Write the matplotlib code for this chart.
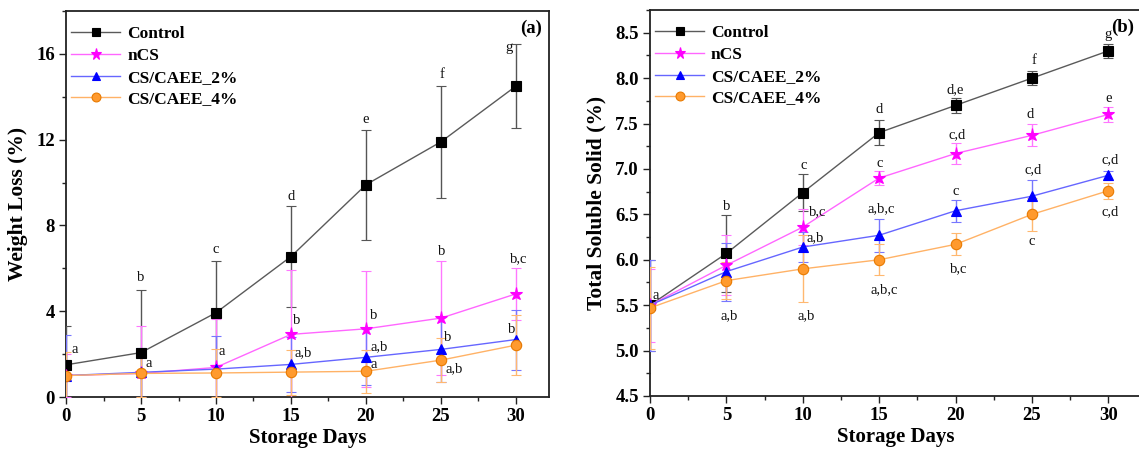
import matplotlib
matplotlib.use("Agg")
import matplotlib.pyplot as plt
from matplotlib.lines import Line2D
from matplotlib.ticker import MultipleLocator

# ---- data -------------------------------------------------------------
days = [0, 5, 10, 15, 20, 25, 30]
series_names = ["Control", "nCS", "CS/CAEE_2%", "CS/CAEE_4%"]

# Weight loss (%)
wl_control = [1.50, 2.07, 3.93, 6.55, 9.90, 11.90, 14.50]
wl_control_err = [1.80, 2.93, 2.42, 2.35, 2.56, 2.60, 1.94]
wl_ncs = [1.00, 1.10, 1.38, 2.92, 3.18, 3.68, 4.81]
wl_ncs_err = [1.00, 2.20, 2.25, 3.00, 2.70, 2.65, 1.20]
wl_cs2 = [1.00, 1.15, 1.30, 1.52, 1.85, 2.22, 2.68]
wl_cs2_err = [1.90, 1.15, 1.56, 1.30, 1.30, 1.50, 1.40]
wl_cs4 = [1.00, 1.10, 1.12, 1.16, 1.20, 1.72, 2.42]
wl_cs4_err = [1.10, 1.10, 1.10, 1.05, 1.00, 1.02, 1.40]

# Total soluble solid (%)
tss_control = [5.50, 6.07, 6.74, 7.40, 7.70, 8.00, 8.30]
tss_control_err = [0.50, 0.42, 0.20, 0.14, 0.08, 0.08, 0.08]
tss_ncs = [5.50, 5.94, 6.36, 6.90, 7.17, 7.37, 7.60]
tss_ncs_err = [0.40, 0.33, 0.20, 0.08, 0.12, 0.12, 0.08]
tss_cs2 = [5.50, 5.87, 6.14, 6.27, 6.54, 6.70, 6.93]
tss_cs2_err = [0.50, 0.32, 0.17, 0.18, 0.12, 0.18, 0.05]
tss_cs4 = [5.47, 5.77, 5.90, 6.00, 6.17, 6.50, 6.76]
tss_cs4_err = [0.45, 0.20, 0.37, 0.17, 0.12, 0.18, 0.09]

# Significance letters: (series, day index, letter)
wl_letters = [
    ("Control", 0, "a"), ("Control", 1, "b"), ("nCS", 1, "a"),
    ("Control", 2, "c"), ("nCS", 2, "a"),
    ("Control", 3, "d"), ("nCS", 3, "b"), ("CS/CAEE_2%", 3, "a,b"),
    ("Control", 4, "e"), ("nCS", 4, "b"), ("CS/CAEE_2%", 4, "a,b"), ("CS/CAEE_4%", 4, "a"),
    ("Control", 5, "f"), ("nCS", 5, "b"), ("CS/CAEE_2%", 5, "b"), ("CS/CAEE_4%", 5, "a,b"),
    ("Control", 6, "g"), ("nCS", 6, "b,c"), ("CS/CAEE_2%", 6, "b"),
]
tss_letters = [
    ("Control", 0, "a"),
    ("Control", 1, "b"), ("CS/CAEE_4%", 1, "a,b"),
    ("Control", 2, "c"), ("nCS", 2, "b,c"), ("CS/CAEE_2%", 2, "a,b"), ("CS/CAEE_4%", 2, "a,b"),
    ("Control", 3, "d"), ("nCS", 3, "c"), ("CS/CAEE_2%", 3, "a,b,c"), ("CS/CAEE_4%", 3, "a,b,c"),
    ("Control", 4, "d,e"), ("nCS", 4, "c,d"), ("CS/CAEE_2%", 4, "c"), ("CS/CAEE_4%", 4, "b,c"),
    ("Control", 5, "f"), ("nCS", 5, "d"), ("CS/CAEE_2%", 5, "c,d"), ("CS/CAEE_4%", 5, "c"),
    ("Control", 6, "g"), ("nCS", 6, "e"), ("CS/CAEE_2%", 6, "c,d"), ("CS/CAEE_4%", 6, "c,d"),
]

# ---- letter placement (offsets from the point, data units) ------------
wl_offsets = [
    (0.55, 0.70), (0.0, 3.48), (0.5, 0.48),
    (0.0, 2.95), (0.4, 0.75),
    (0.0, 2.81), (0.4, 0.65), (0.8, 0.53),
    (0.0, 3.03), (0.5, 0.62), (0.9, 0.51), (0.5, 0.30),
    (0.05, 3.13), (0.05, 3.12), (0.45, 0.54), (0.9, -0.40),
    (-0.45, 1.80), (0.2, 1.66), (-0.3, 0.47),
]
tss_offsets = [
    (0.36, 0.11),
    (0.03, 0.52), (0.15, -0.39),
    (0.06, 0.30), (1.0, 0.17), (0.8, 0.10), (0.2, -0.52),
    (0.0, 0.25), (0.0, 0.16), (0.1, 0.29), (0.3, -0.33),
    (-0.05, 0.175), (0.1, 0.21), (0.0, 0.21), (0.2, -0.27),
    (0.1, 0.19), (-0.1, 0.23), (0.1, 0.29), (0.0, -0.30),
    (0.0, 0.18), (0.0, 0.18), (0.1, 0.17), (0.1, -0.23),
]

# ---- styles -----------------------------------------------------------
styles = {
    "Control":    dict(marker="s", ms=7, mfc="black", mec="black",
                       line="#5a5a5a", err="#555555"),
    "nCS":        dict(marker="*", ms=9.5, mfc="#FF00FF", mec="#FF00FF",
                       line="#FF66FF", err="#FF77FF"),
    "CS/CAEE_2%": dict(marker="^", ms=7.5, mfc="#0000FF", mec="#0000FF",
                       line="#6666FF", err="#7777FF"),
    "CS/CAEE_4%": dict(marker="o", ms=7.5, mfc="#FF9A2E", mec="#E87A00",
                       line="#FFB266", err="#FFB870"),
}

plt.rcParams["font.family"] = ["Liberation Serif", "DejaVu Serif"]

fig = plt.figure(figsize=(11.39, 4.54), dpi=100)
ax_a = fig.add_axes([66 / 1139, 1 - 397 / 454, 483 / 1139, 386 / 454])
ax_b = fig.add_axes([650 / 1139, 1 - 396 / 454, 492 / 1139, 386 / 454])


def draw_panel(ax, values, errors, letters, offsets, ylabel, tag, ylim,
               major, minor, fmt):
    handles = []
    for name in series_names:
        st = styles[name]
        ax.errorbar(days, values[name], yerr=errors[name], color=st["line"],
                    lw=1.0, marker=st["marker"], ms=st["ms"],
                    mfc=st["mfc"], mec=st["mec"], mew=0.8,
                    ecolor=st["err"], elinewidth=1.0, capsize=3.5,
                    capthick=1.0, zorder=3)
        handles.append(Line2D([], [], color=st["line"], lw=1.0,
                              marker=st["marker"], ms=st["ms"] * 0.85,
                              mfc=st["mfc"], mec=st["mec"], mew=0.8,
                              label=name))
    for (name, i, txt), (dx, dy) in zip(letters, offsets):
        ax.text(days[i] + dx, values[name][i] + dy, txt, ha="center",
                va="center", fontsize=10.5, color="#111111", zorder=5)

    ax.set_xlim(0, 32.2)
    ax.set_ylim(*ylim)
    ax.xaxis.set_major_locator(MultipleLocator(5))
    ax.xaxis.set_minor_locator(MultipleLocator(2.5))
    ax.yaxis.set_major_locator(MultipleLocator(major))
    ax.yaxis.set_minor_locator(MultipleLocator(minor))
    ax.yaxis.set_major_formatter(fmt)
    ax.tick_params(which="both", direction="out", top=False, right=False,
                   width=1.0, color="#222222")
    ax.tick_params(which="major", length=5, labelsize=13.5, pad=3)
    ax.tick_params(which="minor", length=3)
    for lab in ax.get_xticklabels() + ax.get_yticklabels():
        lab.set_fontweight("bold")
    for sp in ax.spines.values():
        sp.set_linewidth(1.3)
        sp.set_color("#222222")

    ax.set_xlabel("Storage Days", fontsize=15, fontweight="bold", labelpad=2)
    ax.set_ylabel(ylabel, fontsize=15.5, fontweight="bold", labelpad=6)
    ax.text(0.985, 0.955, tag, transform=ax.transAxes, ha="right",
            va="center", fontsize=13.5, fontweight="bold")

    ax.legend(handles=handles, loc="upper left",
              bbox_to_anchor=(-0.012, 0.99),
              frameon=False, handlelength=2.8, handletextpad=0.4,
              labelspacing=0.32, borderaxespad=0.25,
              prop=dict(family=["Liberation Serif"], weight="bold",
                        size=12.5))


draw_panel(
    ax_a,
    {"Control": wl_control, "nCS": wl_ncs, "CS/CAEE_2%": wl_cs2,
     "CS/CAEE_4%": wl_cs4},
    {"Control": wl_control_err, "nCS": wl_ncs_err, "CS/CAEE_2%": wl_cs2_err,
     "CS/CAEE_4%": wl_cs4_err},
    wl_letters, wl_offsets, "Weight Loss (%)", "(a)", (0, 18), 4, 2,
    "{x:g}")

draw_panel(
    ax_b,
    {"Control": tss_control, "nCS": tss_ncs, "CS/CAEE_2%": tss_cs2,
     "CS/CAEE_4%": tss_cs4},
    {"Control": tss_control_err, "nCS": tss_ncs_err,
     "CS/CAEE_2%": tss_cs2_err, "CS/CAEE_4%": tss_cs4_err},
    tss_letters, tss_offsets, "Total Soluble Solid (%)", "(b)", (4.5, 8.75),
    0.5, 0.25, "{x:.1f}")

fig.savefig("out.png", dpi=100)
